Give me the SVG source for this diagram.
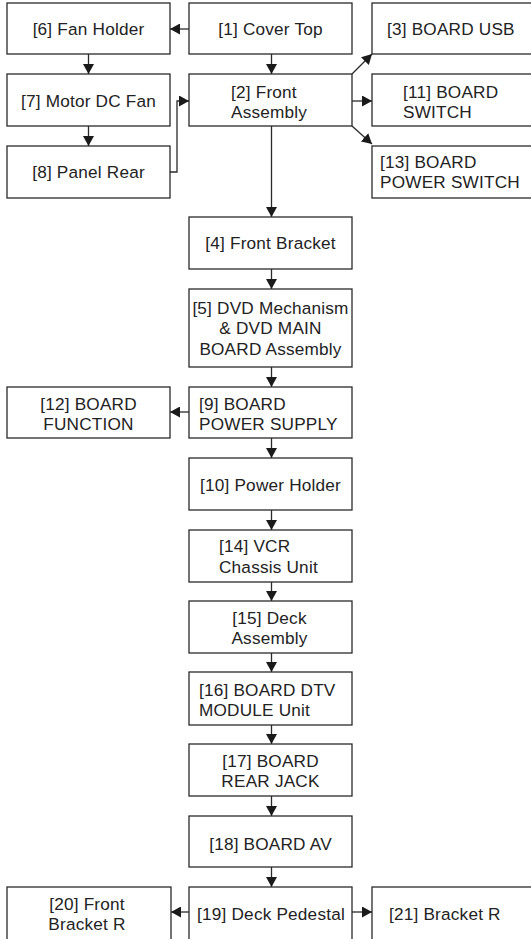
<svg xmlns="http://www.w3.org/2000/svg" width="531" height="939" viewBox="0 0 531 939">
<style>
.b{fill:#fff;stroke:#2a2a2a;stroke-width:1.3}
.t{font-family:"Liberation Sans",Arial,sans-serif;font-size:17.2px;fill:#222;letter-spacing:0.2px}
.c{text-anchor:middle}
.l{fill:none;stroke:#2a2a2a;stroke-width:1.3}
</style>
<defs>
<marker id="ah" markerUnits="userSpaceOnUse" markerWidth="11" markerHeight="11" refX="10" refY="5.5" orient="auto">
<path d="M0,0 L10,5.5 L0,11 Z" fill="#1a1a1a"/>
</marker>
</defs>
<rect width="531" height="939" fill="#fff"/>
<g id="connectors" class="l">
<line x1="189" y1="29" x2="170" y2="29" marker-end="url(#ah)"/>
<line x1="88.5" y1="54" x2="88.5" y2="74" marker-end="url(#ah)"/>
<line x1="88.5" y1="126" x2="88.5" y2="146" marker-end="url(#ah)"/>
<line x1="271.5" y1="54" x2="271.5" y2="74" marker-end="url(#ah)"/>
<polyline points="170,172 177,172 177,101 189,101" marker-end="url(#ah)"/>
<line x1="352" y1="74" x2="372" y2="54" marker-end="url(#ah)"/>
<line x1="352" y1="101" x2="372" y2="101" marker-end="url(#ah)"/>
<line x1="352" y1="126" x2="372" y2="144" marker-end="url(#ah)"/>
<line x1="271.5" y1="126" x2="271.5" y2="217" marker-end="url(#ah)"/>
<line x1="271.5" y1="269" x2="271.5" y2="289" marker-end="url(#ah)"/>
<line x1="271.5" y1="367" x2="271.5" y2="387" marker-end="url(#ah)"/>
<line x1="189" y1="412" x2="170" y2="412" marker-end="url(#ah)"/>
<line x1="271.5" y1="438" x2="271.5" y2="458" marker-end="url(#ah)"/>
<line x1="271.5" y1="510" x2="271.5" y2="530" marker-end="url(#ah)"/>
<line x1="271.5" y1="582" x2="271.5" y2="601" marker-end="url(#ah)"/>
<line x1="271.5" y1="653" x2="271.5" y2="672" marker-end="url(#ah)"/>
<line x1="271.5" y1="725" x2="271.5" y2="744" marker-end="url(#ah)"/>
<line x1="271.5" y1="796" x2="271.5" y2="816" marker-end="url(#ah)"/>
<line x1="271.5" y1="867" x2="271.5" y2="887" marker-end="url(#ah)"/>
<line x1="189" y1="912" x2="171" y2="912" marker-end="url(#ah)"/>
<line x1="352" y1="912" x2="372" y2="912" marker-end="url(#ah)"/>
</g>
<g id="n6"><rect class="b" x="7" y="3" width="163" height="51"/><text class="t c" x="88.5" y="35">[6] Fan Holder</text></g>
<g id="n1"><rect class="b" x="189" y="3" width="163" height="51"/><text class="t c" x="270.5" y="35">[1] Cover Top</text></g>
<g id="n3"><rect class="b" x="372" y="3" width="170" height="51"/><text class="t" x="387" y="35">[3] BOARD USB</text></g>
<g id="n7"><rect class="b" x="7" y="74" width="163" height="52"/><text class="t c" x="88.5" y="107">[7] Motor DC Fan</text></g>
<g id="n2"><rect class="b" x="189" y="74" width="163" height="52"/><text class="t" x="231" y="98">[2] Front</text><text class="t" x="231" y="118">Assembly</text></g>
<g id="n11"><rect class="b" x="372" y="74" width="170" height="52"/><text class="t" x="403" y="98">[11] BOARD</text><text class="t" x="403" y="118">SWITCH</text></g>
<g id="n8"><rect class="b" x="7" y="146" width="163" height="52"/><text class="t c" x="88.5" y="178">[8] Panel Rear</text></g>
<g id="n13"><rect class="b" x="372" y="146" width="170" height="52"/><text class="t" x="380" y="168">[13] BOARD</text><text class="t" x="380" y="188">POWER SWITCH</text></g>
<g id="n4"><rect class="b" x="189" y="217" width="163" height="52"/><text class="t c" x="270.5" y="249">[4] Front Bracket</text></g>
<g id="n5"><rect class="b" x="189" y="289" width="163" height="78"/><text class="t c" x="270.5" y="314">[5] DVD Mechanism</text><text class="t c" x="270.5" y="334">&amp; DVD MAIN</text><text class="t c" x="270.5" y="355">BOARD Assembly</text></g>
<g id="n12"><rect class="b" x="7" y="387" width="163" height="51"/><text class="t c" x="88.5" y="410">[12] BOARD</text><text class="t c" x="88.5" y="430">FUNCTION</text></g>
<g id="n9"><rect class="b" x="189" y="387" width="163" height="51"/><text class="t" x="199" y="410">[9] BOARD</text><text class="t" x="199" y="430">POWER SUPPLY</text></g>
<g id="n10"><rect class="b" x="189" y="458" width="163" height="52"/><text class="t c" x="270.5" y="491">[10] Power Holder</text></g>
<g id="n14"><rect class="b" x="189" y="530" width="163" height="52"/><text class="t" x="219" y="552">[14] VCR</text><text class="t" x="219" y="573">Chassis Unit</text></g>
<g id="n15"><rect class="b" x="189" y="601" width="163" height="52"/><text class="t c" x="269.5" y="624">[15] Deck</text><text class="t c" x="269.5" y="644">Assembly</text></g>
<g id="n16"><rect class="b" x="189" y="672" width="163" height="53"/><text class="t" x="199" y="696">[16] BOARD DTV</text><text class="t" x="199" y="716">MODULE Unit</text></g>
<g id="n17"><rect class="b" x="189" y="744" width="163" height="52"/><text class="t c" x="270.5" y="767">[17] BOARD</text><text class="t c" x="270.5" y="787">REAR JACK</text></g>
<g id="n18"><rect class="b" x="189" y="816" width="163" height="51"/><text class="t c" x="270.5" y="850">[18] BOARD AV</text></g>
<g id="n20"><rect class="b" x="7" y="887" width="164" height="60"/><text class="t c" x="87" y="910">[20] Front</text><text class="t c" x="87" y="930">Bracket R</text></g>
<g id="n19"><rect class="b" x="189" y="887" width="163" height="60"/><text class="t c" x="271" y="920">[19] Deck Pedestal</text></g>
<g id="n21"><rect class="b" x="372" y="887" width="170" height="60"/><text class="t" x="389" y="920">[21] Bracket R</text></g>
</svg>
